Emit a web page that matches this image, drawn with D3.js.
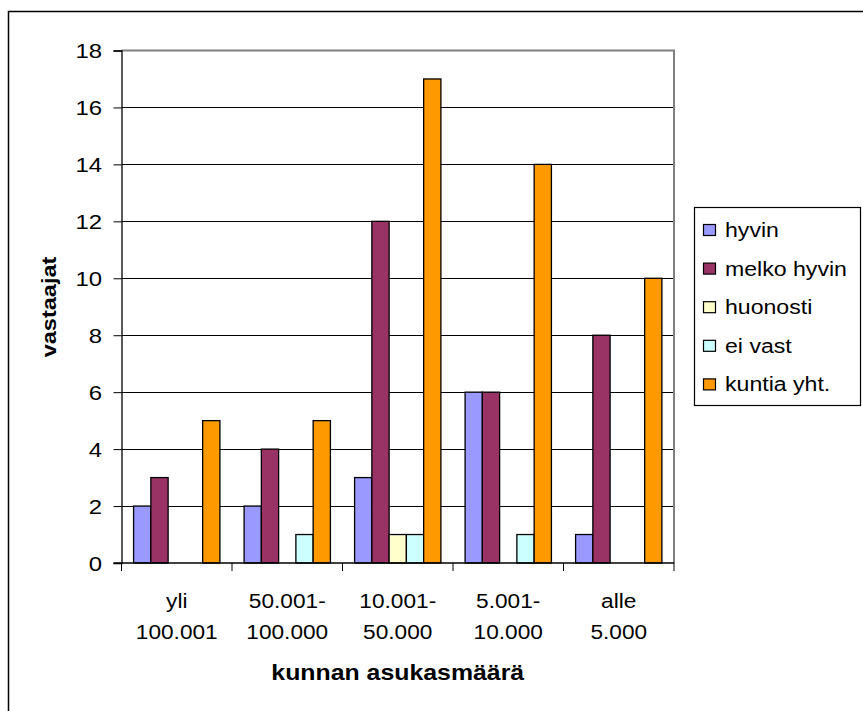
<!DOCTYPE html>
<html>
<head>
<meta charset="utf-8">
<script src="https://cdn.jsdelivr.net/npm/d3@7"></script>
<style>
  html, body { margin: 0; padding: 0; background: #fff; }
  svg { display: block; font-family: "Liberation Sans", Arial, sans-serif; }
</style>
</head>
<body>
<svg id="chart" width="863" height="711"></svg>
<script>
// Municipality size classes (two-line labels)
const categories = [
  ["yli", "100.001"],
  ["50.001-", "100.000"],
  ["10.001-", "50.000"],
  ["5.001-", "10.000"],
  ["alle", "5.000"]
];
const seriesNames = ["hyvin", "melko hyvin", "huonosti", "ei vast", "kuntia yht."];
const seriesColors = ["#9999FF", "#993366", "#FFFFCC", "#CCFFFF", "#FF9900"];

// Respondent counts per series, one value per category
const hyvin      = [2, 2, 3, 6, 1];
const melkoHyvin = [3, 4, 12, 6, 8];
const huonosti   = [0, 0, 1, 0, 0];
const eiVast     = [0, 1, 1, 1, 0];
const kuntiaYht  = [5, 5, 17, 14, 10];
const seriesValues = [hyvin, melkoHyvin, huonosti, eiVast, kuntiaYht];

const yTicks = [0, 2, 4, 6, 8, 10, 12, 14, 16, 18];
const yTitle = "vastaajat";
const xTitle = "kunnan asukasmäärä";

const svg = d3.select("#chart");

// text helper: slightly widened sans-serif, scaled around its anchor point
function label(parent, x, y, str, opts = {}) {
  return parent.append("text")
    .attr("transform", `translate(${x},${y})${opts.rotate ? ` rotate(${opts.rotate})` : ""} scale(${opts.sx || 1},1)`)
    .attr("text-anchor", opts.anchor || "start")
    .attr("font-size", opts.size || 22)
    .attr("font-weight", opts.weight || "normal")
    .attr("fill", "#000")
    .text(str);
}

// outer chart frame
svg.append("rect")
  .attr("x", 8.5).attr("y", 11.5)
  .attr("width", 900).attr("height", 760)
  .attr("fill", "#fff").attr("stroke", "#000").attr("stroke-width", 1.5);

const plot = { left: 121.5, right: 674, top: 50.5, bottom: 563 };

const x = d3.scaleBand()
  .domain(d3.range(categories.length))
  .range([plot.left, plot.right]);

const inner = d3.scaleBand()
  .domain(d3.range(seriesNames.length))
  .range([0, x.bandwidth()])
  .paddingInner(0)
  .paddingOuter(0.7);

const y = d3.scaleLinear().domain([0, 18]).range([plot.bottom, plot.top]);

// gridlines
svg.append("g")
  .selectAll("line")
  .data(yTicks.filter(d => d > 0 && d < 18))
  .join("line")
  .attr("x1", plot.left).attr("x2", plot.right)
  .attr("y1", d => Math.round(y(d)) + 0.5).attr("y2", d => Math.round(y(d)) + 0.5)
  .attr("stroke", "#000").attr("stroke-width", 1);

// plot frame top/right
svg.append("path")
  .attr("d", `M${plot.left},${plot.top}H${plot.right}V${plot.bottom}`)
  .attr("fill", "none").attr("stroke", "#808080").attr("stroke-width", 2);

// bars
const rows = [];
seriesValues.forEach((vals, s) => vals.forEach((v, c) => {
  if (v > 0) rows.push({ s, c, v });
}));
svg.append("g")
  .selectAll("rect")
  .data(rows)
  .join("rect")
  .attr("x", d => x(d.c) + inner(d.s))
  .attr("y", d => y(d.v))
  .attr("width", inner.bandwidth())
  .attr("height", d => y(0) - y(d.v))
  .attr("fill", d => seriesColors[d.s])
  .attr("stroke", "#000").attr("stroke-width", 1.3);

// y axis (line and ticks from d3, labels drawn separately)
const yAxis = svg.append("g")
  .attr("transform", `translate(${plot.left},0)`)
  .call(d3.axisLeft(y).tickValues(yTicks).tickSize(8).tickFormat(""));
yAxis.select(".domain").attr("stroke", "#000").attr("stroke-width", 1.3);
yAxis.selectAll(".tick line").attr("stroke", "#000");
yTicks.forEach(t => {
  label(svg, 102, y(t) + 7.5, d3.format("d")(t), { anchor: "end", size: 21, sx: 1.14 });
});

// x axis with ticks at category boundaries
const xAxisG = svg.append("g").attr("transform", `translate(0,${plot.bottom})`);
xAxisG.append("line")
  .attr("x1", plot.left - 8).attr("x2", plot.right)
  .attr("y1", 0).attr("y2", 0)
  .attr("stroke", "#000").attr("stroke-width", 1.3);
xAxisG.selectAll("line.b")
  .data(d3.range(categories.length + 1))
  .join("line").attr("class", "b")
  .attr("x1", i => i < categories.length ? x(i) : plot.right)
  .attr("x2", i => i < categories.length ? x(i) : plot.right)
  .attr("y1", 0).attr("y2", 8)
  .attr("stroke", "#000").attr("stroke-width", 1);

categories.forEach((lines, i) => {
  lines.forEach((ln, j) => {
    label(svg, x(i) + x.bandwidth() / 2, plot.bottom + 45 + j * 31, ln,
      { anchor: "middle", size: 21, sx: 1.08 });
  });
});

// axis titles
label(svg, 56, 307, yTitle, { anchor: "middle", size: 21, weight: "bold", rotate: -90, sx: 1.12 });
label(svg, (plot.left + plot.right) / 2, 680, xTitle, { anchor: "middle", size: 22, weight: "bold", sx: 1.13 });

// legend
const legend = svg.append("g");
legend.append("rect")
  .attr("x", 694.5).attr("y", 207.5)
  .attr("width", 166).attr("height", 198)
  .attr("fill", "#fff").attr("stroke", "#000").attr("stroke-width", 1.2);
seriesNames.forEach((name, i) => {
  const cy = 230 + i * 38.6;
  legend.append("rect")
    .attr("x", 703.5).attr("y", cy - 5.5)
    .attr("width", 12).attr("height", 11)
    .attr("fill", seriesColors[i])
    .attr("stroke", "#000").attr("stroke-width", 1.2);
  label(legend, 725, cy + 7, name, { size: 21, sx: 1.1 });
});
</script>
</body>
</html>
